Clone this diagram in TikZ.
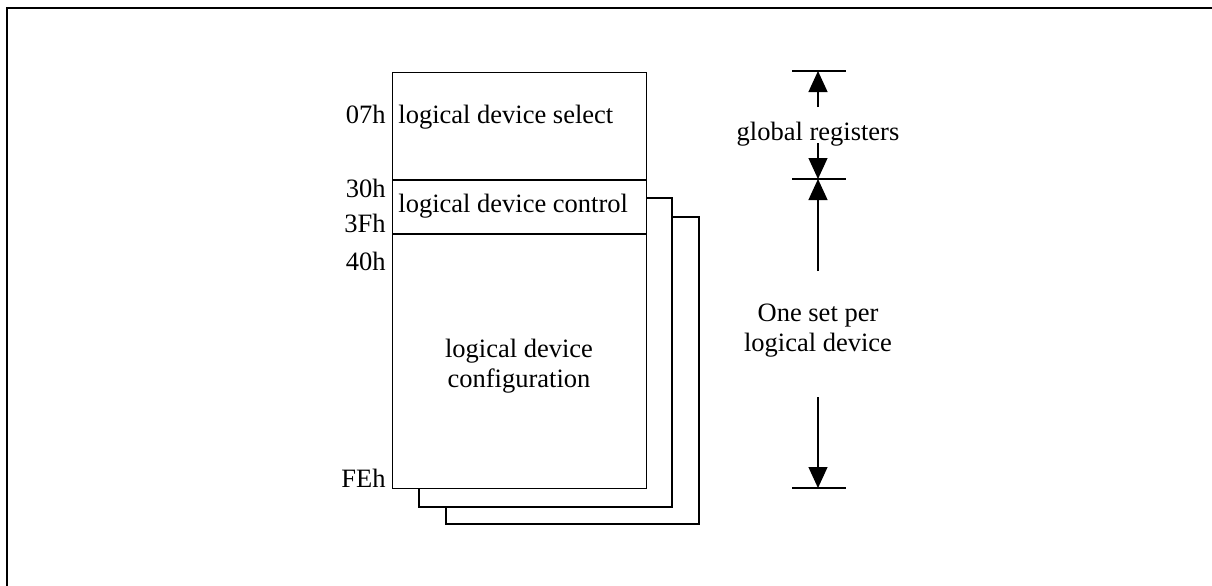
\documentclass[tikz,border=0pt]{standalone}
\usepackage{fontspec}
\setmainfont{Liberation Serif}
\usetikzlibrary{arrows.meta}
\begin{document}
\begin{tikzpicture}[x=0.5pt,y=-0.5pt,
  txt/.style={inner sep=0pt,font=\fontsize{13.25}{15}\selectfont},
  boxline/.style={line width=0.6pt,line join=miter},
  dimline/.style={line width=0.6pt,-{Triangle[length=10.5pt,width=9.5pt]}},
  bar/.style={line width=0.6pt}]
\useasboundingbox (0,0) rectangle (1212,585);
\fill[white] (0,0) rectangle (1212,585);
% outer frame (cut at right and bottom)
\draw[line width=1pt] (7,590) -- (7,8) -- (1220,8);
% back sheets
\draw[boxline] (646,198) -- (672,198) -- (672,507) -- (419,507) -- (419,488);
\draw[boxline] (672,217) -- (699,217) -- (699,524) -- (446,524) -- (446,507);
% main register box
\node[boxline,draw,fill=white,minimum width=254pt/2,minimum height=416pt/2,inner sep=0pt,anchor=north west] (box) at (392,72) {};
\draw[boxline] (392,180) coordinate (d1w) -- (646,180) coordinate (d1e);
\draw[boxline] (392,234) coordinate (d2w) -- (646,234) coordinate (d2e);
% texts in box
\node[txt,anchor=base west] (sel) at (398,123) {logical device select};
\node[txt,anchor=base west] (ctl) at (398,212) {logical device control};
\node[txt,align=center] (cfg) at (519,366) {logical device\\configuration};
% address labels
\node[txt,anchor=base east] (a07) at (386,123) {07h};
\node[txt,anchor=base east] (a30) at (386,197) {30h};
\node[txt,anchor=base east] (a3F) at (386,232) {3Fh};
\node[txt,anchor=base east] (a40) at (386,270) {40h};
\node[txt,anchor=base east] (aFE) at (386,487) {FEh};
% dimension bars
\coordinate (t1) at (818,71);
\coordinate (t2) at (818,179);
\coordinate (t3) at (818,488);
\draw[bar] (792,71) -- (846,71);
\draw[bar] (792,179) -- (846,179);
\draw[bar] (792,488) -- (846,488);
% labels
\node[txt,anchor=base] (glob) at (818,140) {global registers};
\node[txt,align=center] (one) at (818,331) {One set per\\logical device};
\coordinate (g1) at (818,107);
\coordinate (g2) at (818,143);
\coordinate (o1) at (818,271);
\coordinate (o2) at (818,397);
\draw[dimline] (g1) -- (t1);
\draw[dimline] (g2) -- (t2);
\draw[dimline] (o1) -- (t2);
\draw[dimline] (o2) -- (t3);
\end{tikzpicture}
\end{document}
